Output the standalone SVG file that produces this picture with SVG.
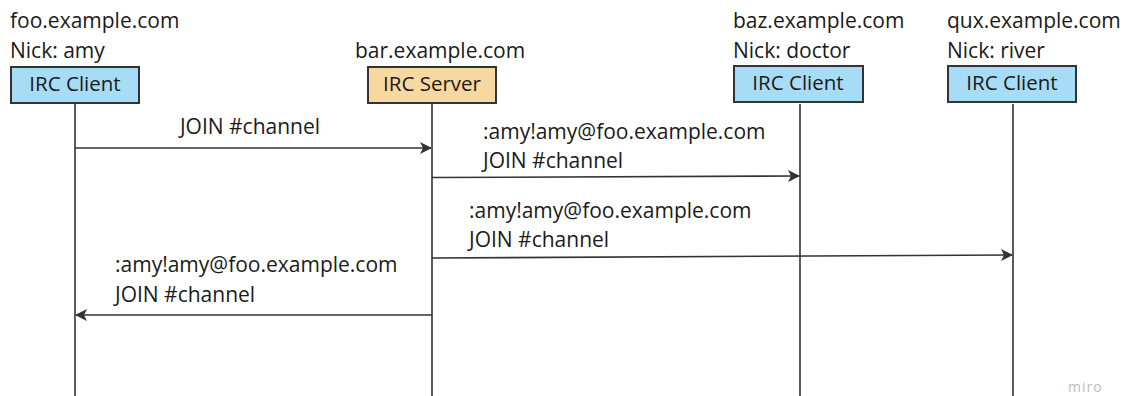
<svg xmlns="http://www.w3.org/2000/svg" width="1129" height="396" viewBox="0 0 1129 396">
<style>
text{font-family:"Open Sans","Noto Sans","Liberation Sans",sans-serif;font-size:21px;fill:#1a1a1a}
.box{stroke:#333;stroke-width:2}
.client{fill:#a6dcf6}
.server{fill:#f6d8a0}
.life{stroke:#333;stroke-width:1.6;fill:none}
.msg{stroke:#333;stroke-width:1.6;fill:none;marker-end:url(#ah)}
.c{text-anchor:middle}
</style>
<defs>
<marker id="ah" viewBox="0 0 12 12" refX="11" refY="6" markerWidth="12" markerHeight="12" markerUnits="userSpaceOnUse" orient="auto">
<path d="M0,0 L12,6 L0,12 L3,6 Z" fill="#333"/>
</marker>
</defs>
<g id="lifelines">
<line class="life" x1="75" y1="104" x2="75" y2="396"/>
<line class="life" x1="432" y1="104" x2="432" y2="396"/>
<line class="life" x1="800" y1="104" x2="800" y2="396"/>
<line class="life" x1="1013" y1="104" x2="1013" y2="396"/>
</g>
<g id="foo">
<text x="10" y="28">foo.example.com</text>
<text x="10" y="58">Nick: amy</text>
<rect class="box client" x="11" y="67" width="128" height="36"/>
<text class="c" x="75" y="91" style="font-size:20.5px">IRC Client</text>
</g>
<g id="bar">
<text x="355" y="58">bar.example.com</text>
<rect class="box server" x="368" y="67" width="128" height="36"/>
<text class="c" x="432" y="91" style="font-size:20.5px">IRC Server</text>
</g>
<g id="baz">
<text x="733" y="28">baz.example.com</text>
<text x="733" y="58">Nick: doctor</text>
<rect class="box client" x="734" y="66" width="129" height="36"/>
<text class="c" x="798" y="90" style="font-size:20.5px">IRC Client</text>
</g>
<g id="qux">
<text x="947" y="28">qux.example.com</text>
<text x="947" y="58">Nick: river</text>
<rect class="box client" x="948" y="66" width="128" height="36"/>
<text class="c" x="1012" y="90" style="font-size:20.5px">IRC Client</text>
</g>
<g id="connectors">
<line class="msg" x1="75" y1="148" x2="431" y2="148"/>
<line class="msg" x1="432" y1="177.5" x2="799" y2="176"/>
<line class="msg" x1="432" y1="258" x2="1012" y2="255"/>
<line class="msg" x1="432" y1="315" x2="76" y2="315"/>
</g>
<g id="labels">
<text class="c" x="250" y="134">JOIN #channel</text>
<text x="483" y="139">:amy!amy@foo.example.com</text>
<text x="483" y="168">JOIN #channel</text>
<text x="469" y="218">:amy!amy@foo.example.com</text>
<text x="469" y="247">JOIN #channel</text>
<text x="115" y="272">:amy!amy@foo.example.com</text>
<text x="115" y="302">JOIN #channel</text>
</g>
<text x="1068" y="392" style="font-size:14px;fill:#bbb;letter-spacing:1px">miro</text>
</svg>
